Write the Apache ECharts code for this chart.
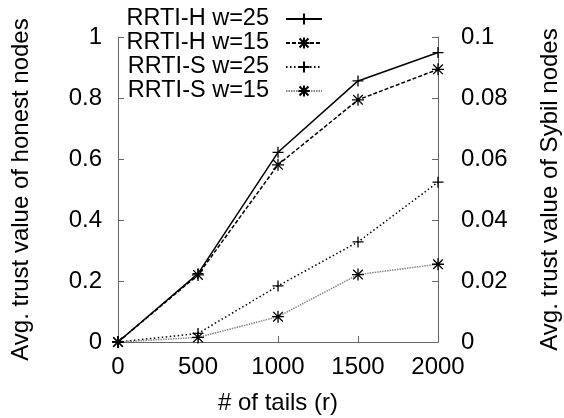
<!DOCTYPE html>
<html><head><meta charset="utf-8">
<script src="https://cdn.jsdelivr.net/npm/echarts@6/dist/echarts.min.js"></script>
<style>html,body{margin:0;padding:0;background:#fff}#c{width:564px;height:418px}</style>
</head><body><div id="c"></div>
<script>
const xValues = [0, 500, 1000, 1500, 2000];
const hW25 = [0, 0.224, 0.622, 0.856, 0.949];
const hW15 = [0, 0.220, 0.581, 0.794, 0.894];
const sW25 = [0, 0.0028, 0.0184, 0.0328, 0.0524];
const sW15 = [0, 0.0015, 0.0083, 0.0221, 0.0255];
const seriesNames = ['RRTI-H w=25', 'RRTI-H w=15', 'RRTI-S w=25', 'RRTI-S w=15'];
const xName = '# of tails (r)';
const yLeftName = 'Avg. trust value of honest nodes';
const yRightName = 'Avg. trust value of Sybil nodes';

const FONT = 'Liberation Sans';
const PLUS = 'path://M5,0L5,10M0,5L10,5';
const STAR = 'path://M5,0L5,10M0,5L10,5M1,1L9,9M9,1L1,9';
function pairs(v){ return xValues.map((x,i)=>[x, v[i]]); }
function mk(name, data, yIdx, sym, size, color, type){
  return {
    name, type:'line', data: pairs(data), yAxisIndex: yIdx,
    symbol: sym, symbolSize: size, showSymbol: true,
    itemStyle: {color: '#000', borderColor: '#000', borderWidth: 1.3},
    lineStyle: {color: color, width: 1.5, type: type},
    animation: false
  };
}
const chart = echarts.init(document.getElementById('c'));
chart.setOption({
  backgroundColor: '#fff',
  grid: {left: 118, right: 126, top: 37, bottom: 76, containLabel: false, outerBoundsMode: 'none'},
  legend: {
    orient: 'vertical', align: 'right', right: 236, top: 2, itemGap: 0,
    itemWidth: 36, itemHeight: 14,
    textStyle: {fontFamily: FONT, fontSize: 23.5, color: '#000', padding: [0, 12, 0, 0]},
    data: seriesNames
  },
  xAxis: {
    type: 'value', min: 0, max: 2000, interval: 500,
    name: xName, nameLocation: 'middle', nameGap: 49,
    nameTextStyle: {fontFamily: FONT, fontSize: 24, color: '#000'},
    axisLine: {show: true, lineStyle: {color: '#666', width: 1}},
    axisTick: {show: true, inside: true, length: 6, lineStyle: {color: '#666'}},
    axisLabel: {fontFamily: FONT, fontSize: 24, color: '#000', margin: 13, formatter: v => String(v)},
    splitLine: {show: false}
  },
  yAxis: [{
    type: 'value', min: 0, max: 1, interval: 0.2, position: 'left',
    name: yLeftName, nameLocation: 'middle', nameGap: 85, nameRotate: 90,
    nameTextStyle: {fontFamily: FONT, fontSize: 24, color: '#000'},
    axisLine: {show: true, lineStyle: {color: '#666', width: 1}},
    axisTick: {show: true, inside: true, length: 6, lineStyle: {color: '#666'}},
    axisLabel: {fontFamily: FONT, fontSize: 24, color: '#000', margin: 16},
    splitLine: {show: false}
  },{
    type: 'value', min: 0, max: 0.1, interval: 0.02, position: 'right',
    name: yRightName, nameLocation: 'middle', nameGap: 100, nameRotate: 90,
    nameTextStyle: {fontFamily: FONT, fontSize: 24, color: '#000'},
    axisLine: {show: true, lineStyle: {color: '#666', width: 1}},
    axisTick: {show: true, inside: true, length: 6, lineStyle: {color: '#666'}},
    axisLabel: {fontFamily: FONT, fontSize: 24, color: '#000', margin: 23},
    splitLine: {show: false}
  }],
  series: [
    mk(seriesNames[0], hW25, 0, PLUS, 11, '#000', 'solid'),
    mk(seriesNames[1], hW15, 0, STAR, 12, '#000', [4, 2]),
    mk(seriesNames[2], sW25, 1, PLUS, 11, '#000', [1.5, 2.5]),
    mk(seriesNames[3], sW15, 1, STAR, 12, '#888', [1.5, 1])
  ]
});
</script></body></html>
